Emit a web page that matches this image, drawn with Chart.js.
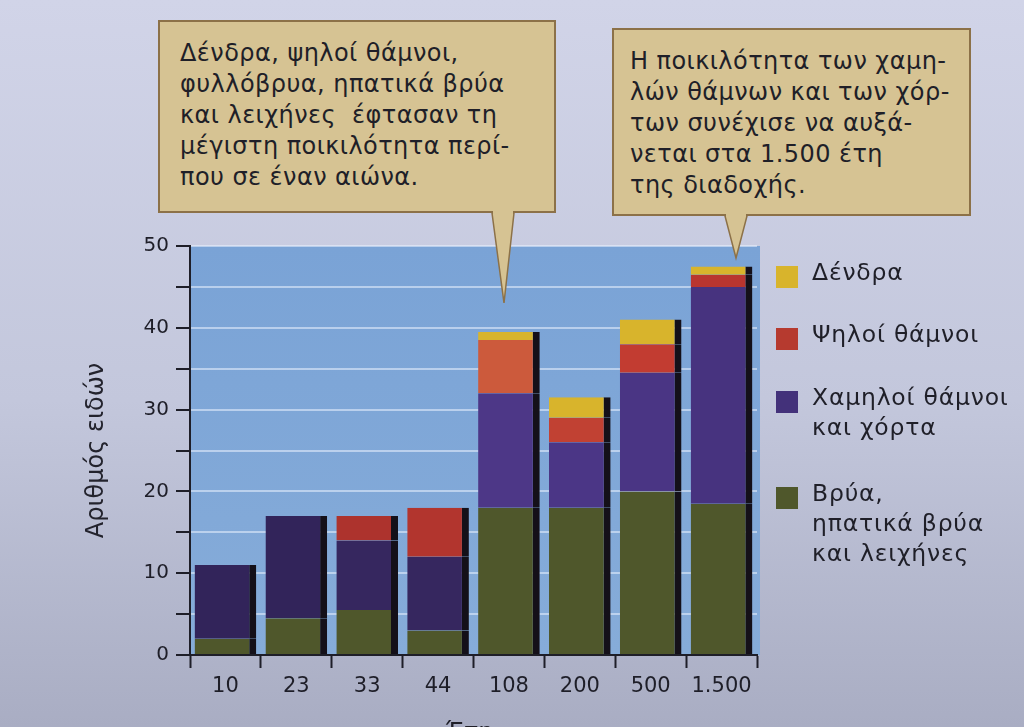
<!DOCTYPE html>
<html>
<head>
<meta charset="utf-8">
<script src="https://cdn.jsdelivr.net/npm/chart.js@4"></script>
<style>
  body { margin: 0; }
  #wrap {
    position: relative; width: 1024px; height: 727px; overflow: hidden;
    background: linear-gradient(180deg, #d1d4e8 0%, #c3c7dc 55%, #a9adc3 100%);
    font-family: "DejaVu Sans", sans-serif; color: #1f1f28;
  }
  canvas { position: absolute; left: 0; top: 0; }
  .callout {
    position: absolute; background: #d6c393; border: 2px solid #8c7148;
    font-size: 24px; line-height: 31px; padding: 16px 0 0 20px; box-sizing: border-box;
    letter-spacing: 0.45px;
  }
  .callout svg { position: absolute; overflow: visible; }
  .legend { position: absolute; left: 776px; font-size: 23.5px; line-height: 30px; letter-spacing: 0.8px; }
  .legend .sw { position: absolute; left: 0; width: 22px; height: 22px; }
  .legend .tx { position: absolute; left: 36px; white-space: nowrap; }
  #xtitle { position: absolute; left: 446px; top: 718px; font-size: 24px; }
</style>
</head>
<body>
<div id="wrap">
  <canvas id="chart" width="1024" height="727"></canvas>
  <div class="callout" style="left:158px;top:20px;width:398px;height:193px">
    Δένδρα, ψηλοί θάμνοι,<br>φυλλόβρυα, ηπατικά βρύα<br>και λειχήνες&nbsp; έφτασαν τη<br>μέγιστη ποικιλότητα περί-<br>που σε έναν αιώνα.
    <svg style="left:332px;top:191px" width="30" height="92"><polygon points="0,0 22,0 12,90" fill="#d6c393" stroke="#8c7148" stroke-width="1.5"/><rect x="1" y="-2" width="20" height="3" fill="#d6c393"/></svg>
  </div>
  <div class="callout" style="left:612px;top:28px;width:359px;height:188px;padding-left:16px">
    Η ποικιλότητα των χαμη-<br>λών θάμνων και των χόρ-<br>των συνέχισε να αυξά-<br>νεται στα 1.500 έτη<br>της διαδοχής.
    <svg style="left:111px;top:186px" width="26" height="44"><polygon points="0,0 22,0 11,42" fill="#d6c393" stroke="#8c7148" stroke-width="1.5"/><rect x="1" y="-2" width="20" height="3" fill="#d6c393"/></svg>
  </div>
  <div class="legend" id="legend"></div>
  <div id="xtitle">Έτη</div>
</div>
<script>
const years = ['10', '23', '33', '44', '108', '200', '500', '1.500'];
const mosses = [2, 4.5, 5.5, 3, 18, 18, 20, 18.5];
const lowShrubs = [9, 12.5, 8.5, 9, 14, 8, 14.5, 26.5];
const tallShrubs = [0, 0, 3, 6, 6.5, 3, 3.5, 1.5];
const trees = [0, 0, 0, 0, 1, 2.5, 3, 1];
const seriesNames = ['Βρύα,\nηπατικά βρύα\nκαι λειχήνες', 'Χαμηλοί θάμνοι\nκαι χόρτα', 'Ψηλοί θάμνοι', 'Δένδρα'];

const colors = ['#4f572b', '#43317a', '#b63a2f', '#d8b42c'];
const purpleBars = ['#32245a', '#32245a', '#36275f', '#36275f', '#4d3787', '#4b3686', '#4a3584', '#47337f'];
const redBars = ['#b4382f', '#b4382f', '#ad332d', '#b2352e', '#cc5a3c', '#c14133', '#c23c31', '#b9352f'];

// legend (top to bottom: trees, tall shrubs, low shrubs, mosses)
const legendTop = [263, 325, 388, 484];
const legendEl = document.getElementById('legend');
[3, 2, 1, 0].forEach((k, i) => {
  const sw = document.createElement('div');
  sw.className = 'sw';
  sw.style.top = (legendTop[i] + 3) + 'px';
  sw.style.background = colors[k];
  const tx = document.createElement('div');
  tx.className = 'tx';
  tx.style.top = (legendTop[i] - 6) + 'px';
  tx.innerHTML = seriesNames[k].replace(/\n/g, '<br>');
  legendEl.appendChild(sw);
  legendEl.appendChild(tx);
});

const side = { top: 0, right: 7, bottom: 0, left: 0 };
const mk = (label, data, bg) => ({
  label, data, backgroundColor: bg, borderColor: '#141019', borderWidth: side,
  borderSkipped: false, barPercentage: 0.87, categoryPercentage: 1
});

const plotBg = {
  id: 'plotBg',
  beforeDraw(chart) {
    const { ctx, chartArea: a } = chart;
    const g = ctx.createLinearGradient(0, a.top, 0, a.bottom);
    g.addColorStop(0, '#7aa3d6');
    g.addColorStop(1, '#86acd9');
    ctx.save();
    ctx.fillStyle = g;
    ctx.fillRect(a.left, a.top, a.right - a.left + 3, a.bottom - a.top);
    ctx.restore();
  }
};

new Chart(document.getElementById('chart'), {
  type: 'bar',
  data: {
    labels: years,
    datasets: [
      mk(seriesNames[0], mosses, colors[0]),
      mk(seriesNames[1], lowShrubs, purpleBars),
      mk(seriesNames[2], tallShrubs, redBars),
      mk(seriesNames[3], trees, colors[3])
    ]
  },
  options: {
    responsive: false,
    animation: false,
    layout: { padding: { left: 78, right: 267, top: 246, bottom: 22 } },
    plugins: { legend: { display: false }, tooltip: { enabled: false } },
    scales: {
      x: {
        stacked: true,
        afterFit: (s) => { s.height = 50; },
        grid: { drawOnChartArea: false, tickLength: 13, tickColor: '#1e1e28', tickWidth: 2 },
        border: { color: '#1e1e28', width: 2 },
        ticks: { color: '#1e1e28', font: { family: 'DejaVu Sans', size: 21 }, padding: 6 }
      },
      y: {
        stacked: true,
        min: 0, max: 50,
        afterFit: (s) => { s.width = 112; },
        title: { display: true, text: 'Αριθμός ειδών', color: '#23232d', font: { family: 'DejaVu Sans', size: 24 } },
        grid: { color: 'rgba(235,242,255,0.55)', lineWidth: 2, tickLength: 14, tickColor: '#1e1e28', tickWidth: 2 },
        border: { color: '#1e1e28', width: 2 },
        ticks: {
          stepSize: 5, padding: 7, color: '#1e1e28',
          font: { family: 'DejaVu Sans', size: 20 },
          callback: (v) => (v % 10 === 0 ? v : '')
        }
      }
    }
  },
  plugins: [plotBg]
});
</script>
</body>
</html>
